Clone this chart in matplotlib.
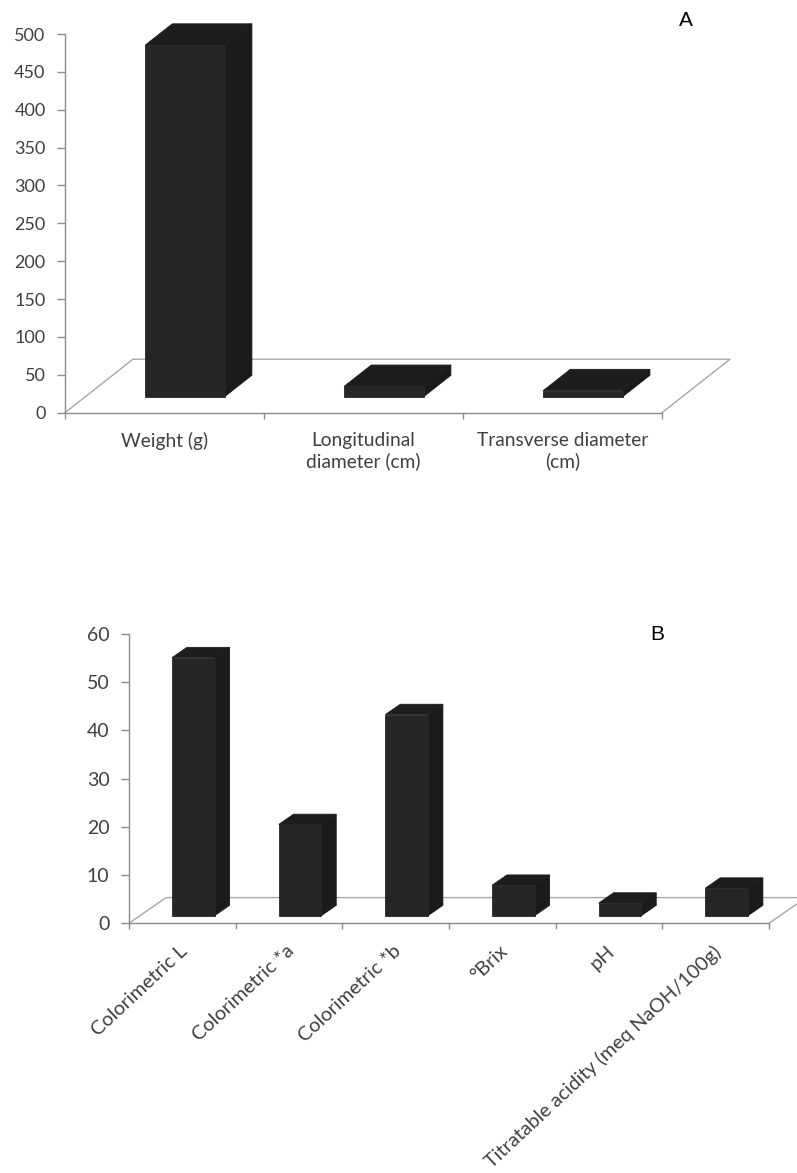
import numpy as np
import matplotlib
matplotlib.use("Agg")
import matplotlib.pyplot as plt
from matplotlib.patches import Polygon
from matplotlib.transforms import offset_copy

plt.rcParams["font.family"] = ["Lato", "DejaVu Sans"]

# panel A: fruit size
cats_a = ["Weight (g)", "Longitudinal\ndiameter (cm)", "Transverse diameter\n(cm)"]
vals_a = [464, 13.5, 7.8]
yticks_a = [0, 50, 100, 150, 200, 250, 300, 350, 400, 450, 500]

# panel B: colour / chemistry
cats_b = ["Colorimetric L", "Colorimetric *a", "Colorimetric *b", "°Brix", "pH",
          "Titratable acidity (meq NaOH/100g)"]
vals_b = [53.5, 18.9, 41.7, 6.3, 2.6, 5.7]
yticks_b = [0, 10, 20, 30, 40, 50, 60]

AXC = "#8c8c8c"; TXT = "#404040"
FRONT = "#262626"; SIDE = "#1a1a1a"; TOP = "#1d1d1d"

fig = plt.figure(figsize=(7.97, 11.73), dpi=100)


def bars3d(ax, cats, vals, yticks, depth, ysize, rot=False):
    """fake Excel 3-D columns on a 2-D axes: depth = (dx in category units, dy in value units)"""
    n = len(cats); ddx, ddy = depth
    ax.set_xlim(0, n); ax.set_ylim(0, yticks[-1])
    for s in ("top", "right"):
        ax.spines[s].set_visible(False)
    for s in ("left", "bottom"):
        ax.spines[s].set_color(AXC); ax.spines[s].set_linewidth(1.0)
    # floor
    ax.plot([0, ddx, n + ddx, n], [0, ddy, ddy, 0], color="#a6a6a6", lw=1.0,
            clip_on=False, zorder=1)
    f0, f1 = 0.3, 0.7  # bar sits in the middle of the floor depth
    bdx, bdy = (f1 - f0) * ddx, (f1 - f0) * ddy
    for i, v in enumerate(vals):
        xl = i + 0.3 + f0 * ddx; xr = xl + 0.4
        yb = f0 * ddy; yt = yb + v
        kw = dict(closed=True, clip_on=False, lw=0.6, zorder=3)
        ax.add_patch(Polygon([(xr, yb), (xr + bdx, yb + bdy), (xr + bdx, yt + bdy), (xr, yt)],
                             fc=SIDE, ec=SIDE, **kw))
        ax.add_patch(Polygon([(xl, yt), (xl + bdx, yt + bdy), (xr + bdx, yt + bdy), (xr, yt)],
                             fc=TOP, ec=TOP, **kw))
        ax.add_patch(Polygon([(xl, yb), (xl, yt), (xr, yt), (xr, yb)],
                             fc=FRONT, ec=FRONT, **kw))
    ax.set_yticks(yticks)
    ax.tick_params(axis="y", direction="out", length=6, width=1, color=AXC, pad=8,
                   labelsize=ysize, labelcolor=TXT)
    ax.set_xticks(np.arange(0, n + 1))
    ax.tick_params(axis="x", which="major", direction="out", length=4, width=1, color=AXC,
                   labelbottom=False)
    if rot:
        # slanted category names, right end just under the category centre
        tr = offset_copy(ax.get_xaxis_transform(), fig=ax.figure, x=-3, y=-19, units="dots")
        for i, c in enumerate(cats):
            ax.text(i + 0.5, 0, c, transform=tr, rotation=43, ha="right", va="top",
                    rotation_mode="anchor", fontsize=14.3, color=TXT)
    else:
        ax.set_xticks(np.arange(n) + 0.5, minor=True)
        ax.set_xticklabels(cats, minor=True, ha="center", va="top", linespacing=1.2)
        ax.tick_params(axis="x", which="minor", length=0, pad=14, labelsize=13.8, labelcolor=TXT)
    ax.set_facecolor("none")


W, H = 797, 1173
axA = fig.add_axes([65 / W, 1 - 412.7 / H, 597 / W, 378.7 / H])
bars3d(axA, cats_a, vals_a, yticks_a, depth=(68 / 199, 53.5 / 0.7574), ysize=13)
fig.text(686 / W, 1 - 21 / H, "A", fontsize=15, ha="center", va="center",
         family=["Liberation Sans", "DejaVu Sans"])

axB = fig.add_axes([129 / W, 1 - 923.3 / H, 640 / W, 289.3 / H])
bars3d(axB, cats_b, vals_b, yticks_b, depth=(37 / 106.67, 25.7 / 4.822), ysize=14, rot=True)
fig.text(657 / W, 1 - 634 / H, "B", fontsize=15, ha="center", va="center",
         family=["Liberation Sans", "DejaVu Sans"])

fig.savefig("out.png", dpi=100, facecolor="white")
